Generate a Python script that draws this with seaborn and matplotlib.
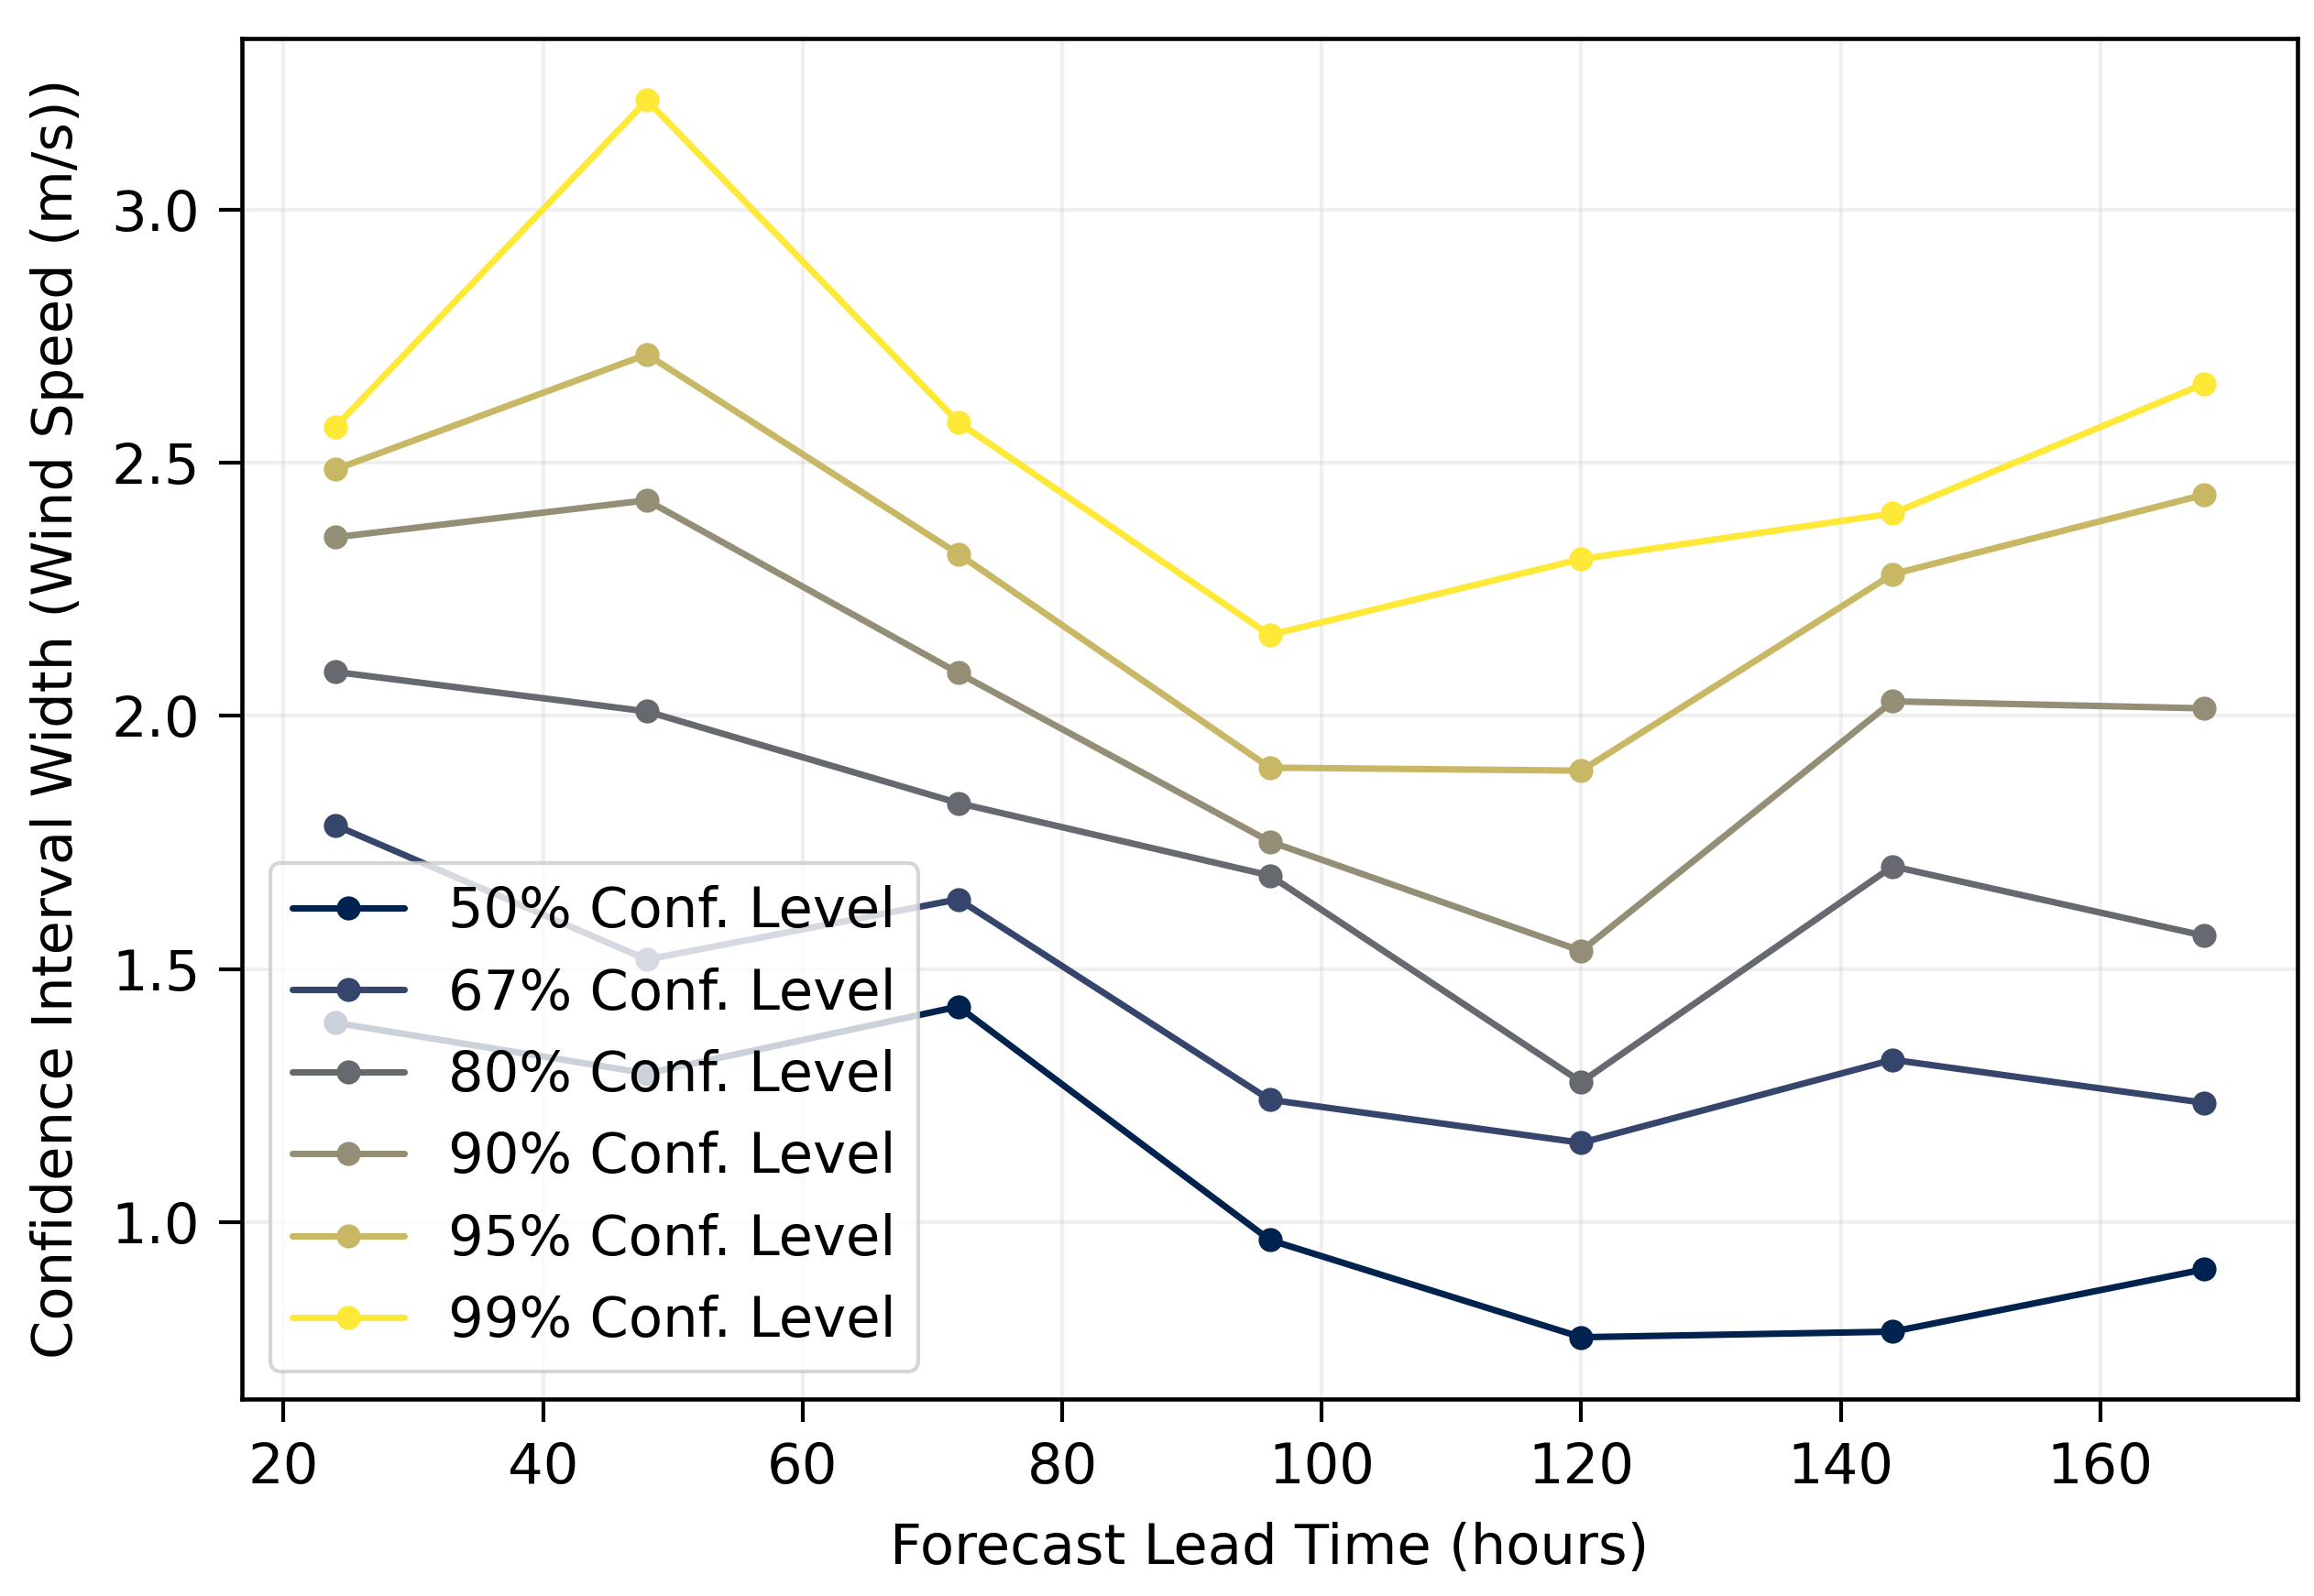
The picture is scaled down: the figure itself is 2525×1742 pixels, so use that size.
import numpy as np
import pandas as pd
import matplotlib
matplotlib.use("Agg")
import matplotlib.pyplot as plt
import seaborn as sns

# Forecast lead times (hours)
LEAD_TIMES = [24, 48, 72, 96, 120, 144, 168]

# Confidence interval widths (m/s) per confidence level
CI_50 = [1.394, 1.294, 1.426, 0.965, 0.773, 0.784, 0.907]
CI_67 = [1.784, 1.519, 1.638, 1.242, 1.157, 1.321, 1.236]
CI_80 = [2.087, 2.009, 1.828, 1.685, 1.277, 1.703, 1.566]
CI_90 = [2.353, 2.426, 2.085, 1.752, 1.536, 2.029, 2.015]
CI_95 = [2.487, 2.714, 2.320, 1.898, 1.892, 2.280, 2.437]
CI_99 = [2.571, 3.216, 2.580, 2.160, 2.310, 2.400, 2.656]

LEVELS = ["50%", "67%", "80%", "90%", "95%", "99%"]
SERIES = [CI_50, CI_67, CI_80, CI_90, CI_95, CI_99]


def build_dataframe():
    rows = []
    for level, values in zip(LEVELS, SERIES):
        label = f"{level} Conf. Level"
        for lead, width in zip(LEAD_TIMES, values):
            rows.append([lead, width, label])
    return pd.DataFrame(rows, columns=["LeadTime", "Width", "Level"])


def plot_dataframe(df):
    sns.set_style("ticks")
    plt.rcParams["font.family"] = ["DejaVu Sans"]
    plt.rcParams["font.size"] = 14.6
    # plain black text like matplotlib's default look
    for key in ["text.color", "axes.labelcolor", "xtick.color", "ytick.color"]:
        plt.rcParams[key] = "black"

    fig, ax = plt.subplots(figsize=(2525 / 300, 1742 / 300), dpi=300)
    fig.subplots_adjust(left=0.1046, right=0.9929, top=0.9759, bottom=0.1234)

    colors = [plt.cm.cividis(v) for v in np.linspace(0, 1, len(LEVELS))]

    sns.lineplot(
        data=df,
        x="LeadTime",
        y="Width",
        hue="Level",
        palette=colors,
        marker="o",
        markersize=6.3,
        markeredgewidth=0,
        linewidth=1.7,
        ax=ax,
    )

    ax.set_xlabel("Forecast Lead Time (hours)", fontsize=14.6, labelpad=7)
    ax.set_ylabel("Confidence Interval Width (Wind Speed (m/s))", fontsize=14.6, labelpad=7)
    ax.tick_params(axis="both", labelsize=14.6, length=6, width=1.0, pad=5)
    for spine in ax.spines.values():
        spine.set_linewidth(1.1)
        spine.set_color("black")
    ax.grid(True, alpha=0.3, linewidth=1.0)

    ax.legend(loc="lower left", fontsize=14.6, title=None, frameon=True)

    fig.savefig("out.png", dpi=300)


def main():
    df = build_dataframe()
    plot_dataframe(df)


if __name__ == "__main__":
    main()
